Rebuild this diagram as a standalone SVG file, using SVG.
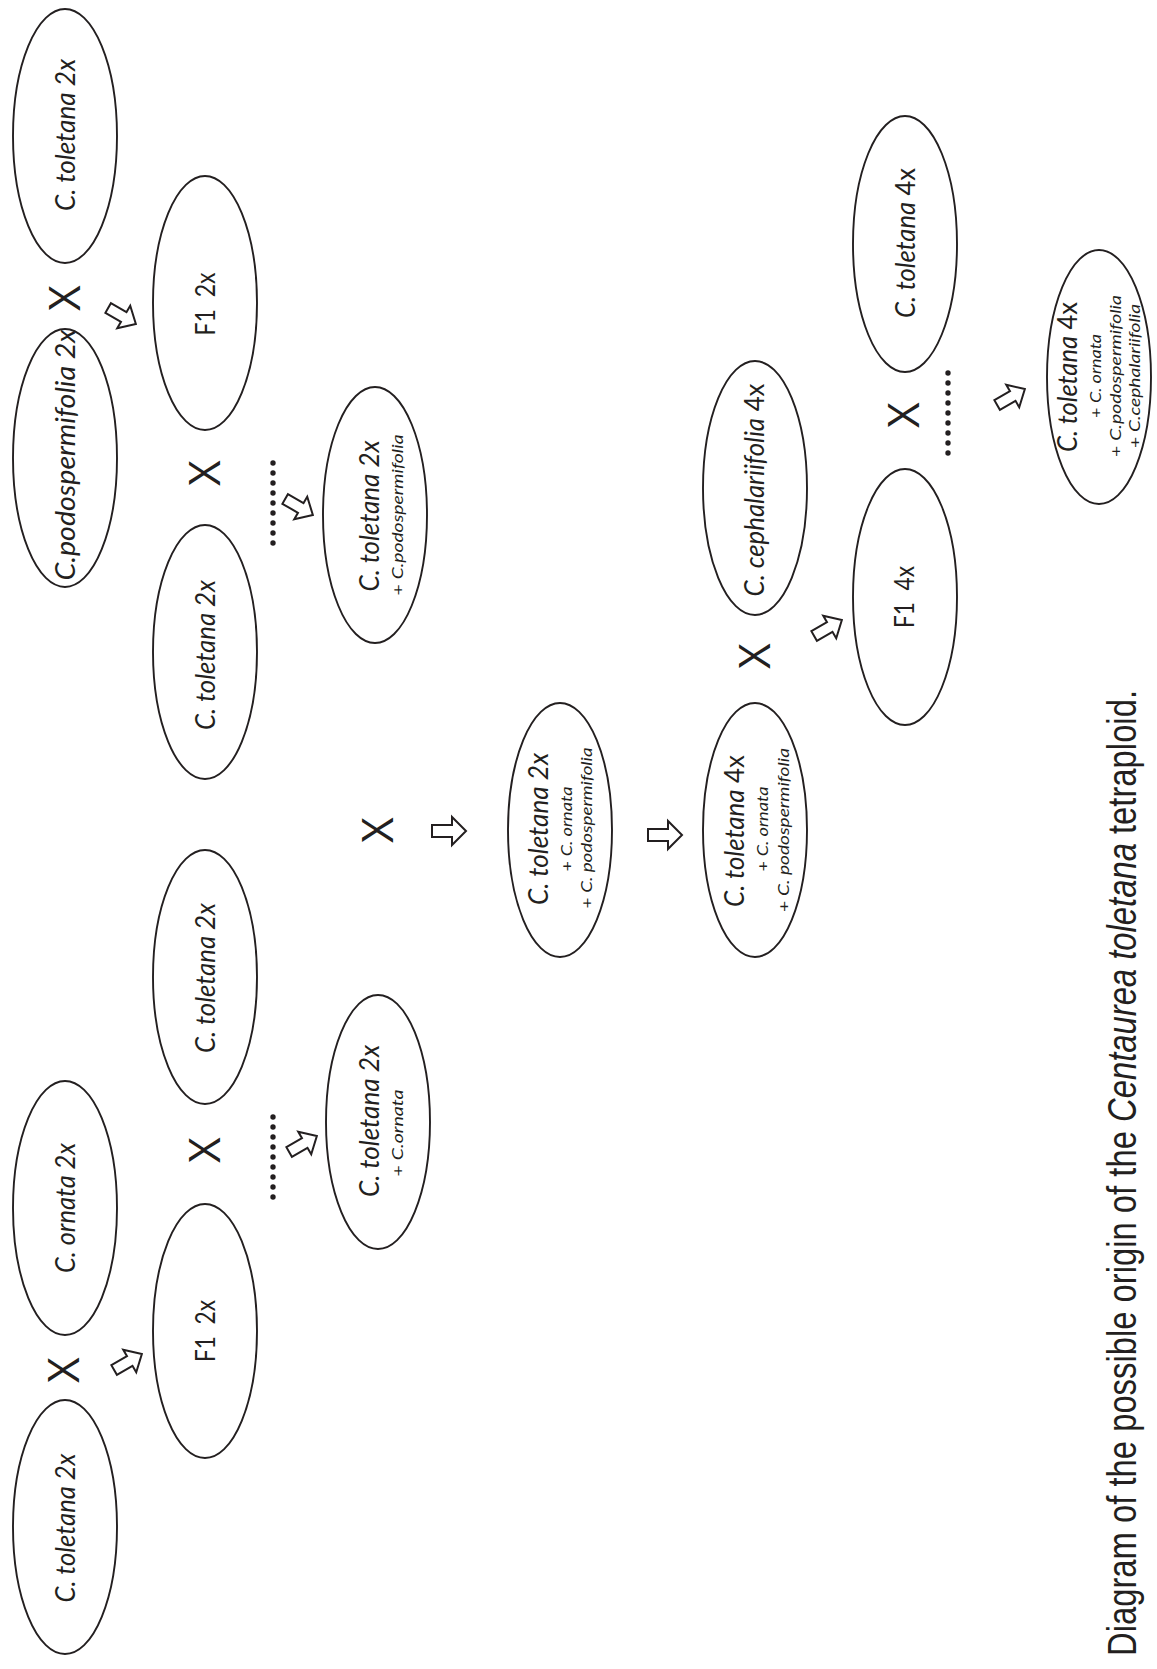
<svg xmlns="http://www.w3.org/2000/svg" xmlns:xlink="http://www.w3.org/1999/xlink" width="1157" height="1669" viewBox="0 0 1157 1669">
<style>
.nd{fill:none;stroke:#231f20;stroke-width:1.9}
.lb{font-family:Lato,'Open Sans','Liberation Sans',sans-serif;font-size:27px;fill:#231f20;text-anchor:middle}
.sm{font-size:16px}
.it{font-style:italic}
.xx{font-family:'Open Sans','Liberation Sans',sans-serif;font-size:44px;fill:#231f20;text-anchor:middle}
.ar{fill:#fff;stroke:#231f20;stroke-width:2;stroke-linejoin:miter}
.dt{fill:#231f20}
.cap{font-family:'Liberation Sans',Arial,sans-serif;font-size:40px;fill:#231f20;text-anchor:middle}
</style>
<defs>
<path id="ah" d="M-17,-6 H3 V-14 L17,0 L3,14 V6 H-17 Z"/>
<path id="ad" d="M-16,-5.5 H2 V-13 L16,0 L2,13 V5.5 H-16 Z"/>
<g id="dots">
<circle cx="0" cy="0" r="2.7"/><circle cx="0" cy="10" r="2.7"/><circle cx="0" cy="20" r="2.7"/><circle cx="0" cy="30" r="2.7"/><circle cx="0" cy="40" r="2.7"/><circle cx="0" cy="50" r="2.7"/><circle cx="0" cy="60" r="2.7"/><circle cx="0" cy="70" r="2.7"/><circle cx="0" cy="80" r="2.7"/>
</g>
</defs>
<rect width="1157" height="1669" fill="#fff"/>

<g id="n1"><ellipse class="nd" cx="65" cy="136" rx="52" ry="127"/>
<text class="lb it" transform="translate(75,135) rotate(-90)" textLength="152" lengthAdjust="spacingAndGlyphs">C. toletana 2x</text></g>
<g id="n2"><ellipse class="nd" cx="65" cy="458" rx="52" ry="129"/>
<text class="lb it" transform="translate(75,455) rotate(-90)" textLength="251" lengthAdjust="spacingAndGlyphs">C.podospermifolia 2x</text></g>
<g id="n3"><ellipse class="nd" cx="205" cy="303" rx="52" ry="127"/>
<text class="lb" transform="translate(215,304) rotate(-90)" textLength="63" lengthAdjust="spacingAndGlyphs">F1&#160;&#160;2x</text></g>
<g id="n4"><ellipse class="nd" cx="205" cy="652" rx="52" ry="127"/>
<text class="lb it" transform="translate(215,655) rotate(-90)" textLength="150" lengthAdjust="spacingAndGlyphs">C. toletana 2x</text></g>
<g id="n5"><ellipse class="nd" cx="375" cy="515" rx="52" ry="128"/>
<text class="lb it" transform="translate(379,516) rotate(-90)" textLength="151" lengthAdjust="spacingAndGlyphs">C. toletana 2x</text>
<text class="lb sm" transform="translate(403,515) rotate(-90)" textLength="161" lengthAdjust="spacingAndGlyphs">+ <tspan class="it">C.podospermifolia</tspan></text></g>
<g id="n6"><ellipse class="nd" cx="205" cy="977" rx="52" ry="127"/>
<text class="lb it" transform="translate(215,978) rotate(-90)" textLength="150" lengthAdjust="spacingAndGlyphs">C. toletana 2x</text></g>
<g id="n7"><ellipse class="nd" cx="65" cy="1208" rx="52" ry="127"/>
<text class="lb it" transform="translate(75,1208) rotate(-90)" textLength="130" lengthAdjust="spacingAndGlyphs">C. ornata 2x</text></g>
<g id="n8"><ellipse class="nd" cx="205" cy="1331" rx="52" ry="127"/>
<text class="lb" transform="translate(215,1331) rotate(-90)" textLength="62" lengthAdjust="spacingAndGlyphs">F1&#160;&#160;2x</text></g>
<g id="n9"><ellipse class="nd" cx="65" cy="1527" rx="52" ry="127"/>
<text class="lb it" transform="translate(75,1528) rotate(-90)" textLength="149" lengthAdjust="spacingAndGlyphs">C. toletana 2x</text></g>
<g id="n10"><ellipse class="nd" cx="378" cy="1122" rx="52" ry="127"/>
<text class="lb it" transform="translate(379,1121) rotate(-90)" textLength="152" lengthAdjust="spacingAndGlyphs">C. toletana 2x</text>
<text class="lb sm" transform="translate(403,1133) rotate(-90)" textLength="87" lengthAdjust="spacingAndGlyphs">+ <tspan class="it">C.ornata</tspan></text></g>
<g id="n11"><ellipse class="nd" cx="560" cy="830" rx="52" ry="127"/>
<text class="lb it" transform="translate(548,829) rotate(-90)" textLength="152" lengthAdjust="spacingAndGlyphs">C. toletana 2x</text>
<text class="lb sm" transform="translate(572,829) rotate(-90)" textLength="85" lengthAdjust="spacingAndGlyphs">+ <tspan class="it">C. ornata</tspan></text>
<text class="lb sm" transform="translate(592,828) rotate(-90)" textLength="161" lengthAdjust="spacingAndGlyphs">+ <tspan class="it">C. podospermifolia</tspan></text></g>
<g id="n12"><ellipse class="nd" cx="755" cy="830" rx="52" ry="127"/>
<text class="lb" transform="translate(744,831) rotate(-90)" textLength="152" lengthAdjust="spacingAndGlyphs"><tspan class="it">C. toletana</tspan> 4x</text>
<text class="lb sm" transform="translate(768,829) rotate(-90)" textLength="85" lengthAdjust="spacingAndGlyphs">+ <tspan class="it">C. ornata</tspan></text>
<text class="lb sm" transform="translate(789,830) rotate(-90)" textLength="164" lengthAdjust="spacingAndGlyphs">+ <tspan class="it">C. podospermifolia</tspan></text></g>
<g id="n13"><ellipse class="nd" cx="755" cy="488" rx="52" ry="127"/>
<text class="lb" transform="translate(764,490) rotate(-90)" textLength="213" lengthAdjust="spacingAndGlyphs"><tspan class="it">C. cephalariifolia</tspan> 4x</text></g>
<g id="n14"><ellipse class="nd" cx="905" cy="597" rx="52" ry="128"/>
<text class="lb" transform="translate(914,597) rotate(-90)" textLength="62" lengthAdjust="spacingAndGlyphs">F1&#160;&#160;4x</text></g>
<g id="n15"><ellipse class="nd" cx="905" cy="244" rx="52" ry="128"/>
<text class="lb" transform="translate(915,243) rotate(-90)" textLength="150" lengthAdjust="spacingAndGlyphs"><tspan class="it">C. toletana</tspan> 4x</text></g>
<g id="n16"><ellipse class="nd" cx="1099" cy="377" rx="52" ry="127"/>
<text class="lb" transform="translate(1077,377) rotate(-90)" textLength="150" lengthAdjust="spacingAndGlyphs"><tspan class="it">C. toletana</tspan> 4x</text>
<text class="lb sm" transform="translate(1101,376) rotate(-90)" textLength="84" lengthAdjust="spacingAndGlyphs">+ <tspan class="it">C. ornata</tspan></text>
<text class="lb sm" transform="translate(1121,376) rotate(-90)" textLength="162" lengthAdjust="spacingAndGlyphs">+ <tspan class="it">C.podospermifolia</tspan></text>
<text class="lb sm" transform="translate(1140,376) rotate(-90)" textLength="144" lengthAdjust="spacingAndGlyphs">+ <tspan class="it">C.cephalariifolia</tspan></text></g>

<g id="connectors">
<g id="crosses">
<text class="xx" transform="translate(80,298) rotate(-90)">X</text>
<text class="xx" transform="translate(220,473) rotate(-90)">X</text>
<text class="xx" transform="translate(79,1370) rotate(-90)">X</text>
<text class="xx" transform="translate(220,1150) rotate(-90)">X</text>
<text class="xx" transform="translate(393,830) rotate(-90)">X</text>
<text class="xx" transform="translate(770,656) rotate(-90)">X</text>
<text class="xx" transform="translate(919,415) rotate(-90)">X</text>
</g>
<g id="dotlines" class="dt">
<use xlink:href="#dots" transform="translate(273,463)"/>
<use xlink:href="#dots" transform="translate(273,1117)"/>
<use xlink:href="#dots" transform="translate(948,373)"/>
</g>
<g id="arrows" class="ar">
<use xlink:href="#ad" transform="translate(122,316) rotate(30)"/>
<use xlink:href="#ad" transform="translate(299,507) rotate(30)"/>
<use xlink:href="#ad" transform="translate(128,1362) rotate(-30)"/>
<use xlink:href="#ad" transform="translate(303,1144) rotate(-30)"/>
<use xlink:href="#ah" transform="translate(449,831)"/>
<use xlink:href="#ah" transform="translate(665,835)"/>
<use xlink:href="#ad" transform="translate(828,628) rotate(-30)"/>
<use xlink:href="#ad" transform="translate(1011,397) rotate(-30)"/>
</g>
</g>

<text id="caption" class="cap" transform="translate(1136,1173) rotate(-90)" textLength="966" lengthAdjust="spacingAndGlyphs">Diagram of the possible origin of the <tspan font-style="italic">Centaurea toletana</tspan> tetraploid.</text>
</svg>
